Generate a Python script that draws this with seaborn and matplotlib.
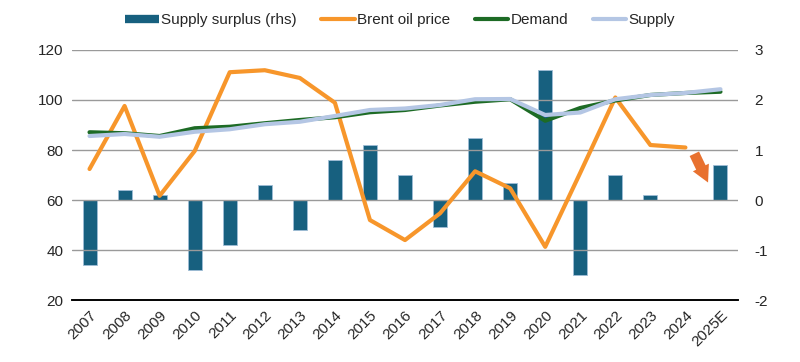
import numpy as np
import pandas as pd
import seaborn as sns
import matplotlib.pyplot as plt
from matplotlib.lines import Line2D

years = ['2007', '2008', '2009', '2010', '2011', '2012', '2013', '2014', '2015', '2016',
         '2017', '2018', '2019', '2020', '2021', '2022', '2023', '2024', '2025E']
surplus = [-1.3, 0.2, 0.1, -1.4, -0.9, 0.3, -0.6, 0.8, 1.1, 0.5,
           -0.53, 1.25, 0.35, 2.6, -1.5, 0.5, 0.1, np.nan, 0.7]
brent = [72.4, 97.6, 61.7, 79.6, 111.1, 111.9, 108.8, 98.9, 52.0, 44.0,
         54.7, 71.5, 64.7, 41.3, 70.9, 101.0, 82.0, 81.0, np.nan]
demand = [87.1, 86.7, 85.6, 88.7, 89.3, 90.7, 92.0, 93.1, 95.1, 96.0,
          97.8, 99.3, 100.3, 91.7, 96.8, 99.8, 102.0, 102.8, 103.3]
supply = [85.6, 86.4, 85.3, 87.3, 88.3, 90.3, 91.3, 93.6, 96.0, 96.6,
          98.0, 100.3, 100.4, 94.0, 95.0, 100.3, 102.0, 102.8, 104.3]

df = pd.DataFrame({'Year': years, 'pos': range(len(years)), 'Surplus': surplus,
                   'Brent': brent, 'Demand': demand, 'Supply': supply})

bar_col = '#17607f'
brent_col = '#f7962b'
demand_col = '#1d6b25'
supply_col = '#b4c6e4'

sns.set_style('white')
plt.rcParams['font.family'] = ['Liberation Sans', 'DejaVu Sans']
plt.rcParams['font.size'] = 11
plt.rcParams['axes.unicode_minus'] = False

fig, ax = plt.subplots(figsize=(8, 3.62), dpi=100)
fig.subplots_adjust(left=0.09, right=0.9225, top=0.862, bottom=0.171)
ax2 = ax.twinx()

# bars on the right axis, kept below the lines
sns.barplot(data=df, x='Year', y='Surplus', ax=ax2, color=bar_col, width=0.4,
            edgecolor='#9fbdd6', linewidth=0.6, saturation=1)
ax.set_zorder(ax2.get_zorder() + 1)
ax.patch.set_visible(False)

sns.lineplot(data=df, x='pos', y='Brent', ax=ax, color=brent_col, lw=3)
sns.lineplot(data=df, x='pos', y='Demand', ax=ax, color=demand_col, lw=3)
sns.lineplot(data=df, x='pos', y='Supply', ax=ax, color=supply_col, lw=3)

ax.set_ylim(20, 120)
ax.set_yticks(range(20, 121, 20))
ax2.set_ylim(-2, 3)
ax2.set_yticks(range(-2, 4))
ax.set_xlim(-0.5, len(years) - 0.5)
ax.set_xticks(range(len(years)))
ax.set_xticklabels(years, rotation=45, ha='right', rotation_mode='anchor')
for a in (ax, ax2):
    a.set_xlabel('')
    a.set_ylabel('')
    for s in ['top', 'left', 'right']:
        a.spines[s].set_visible(False)
    a.spines['bottom'].set_color('black')
    a.spines['bottom'].set_linewidth(1.2)
ax.grid(axis='y', color='#9a9a9a', lw=1)
ax.tick_params(axis='both', length=0, pad=6)
ax2.tick_params(axis='y', length=0, pad=12)

# forecast arrow from 2024 towards 2025E
i24 = years.index('2024')
ax.annotate('', xy=(i24 + 0.68, 66), xytext=(i24 + 0.22, 79.5),
            arrowprops=dict(arrowstyle='simple,head_width=0.85,head_length=0.8,tail_width=0.5',
                            color='#e8712f', lw=0, mutation_scale=15))

handles = [Line2D([], [], color=bar_col, lw=6, solid_capstyle='butt'),
           Line2D([], [], color=brent_col, lw=3),
           Line2D([], [], color=demand_col, lw=3),
           Line2D([], [], color=supply_col, lw=3)]
labels = ['Supply surplus (rhs)', 'Brent oil price', 'Demand', 'Supply']
fig.legend(handles, labels, loc='center', bbox_to_anchor=(0.5, 0.945), ncol=4,
           frameon=False, handlelength=2.2, handletextpad=0.15, columnspacing=1.6,
           fontsize=11)

fig.savefig('out.png', dpi=100)
